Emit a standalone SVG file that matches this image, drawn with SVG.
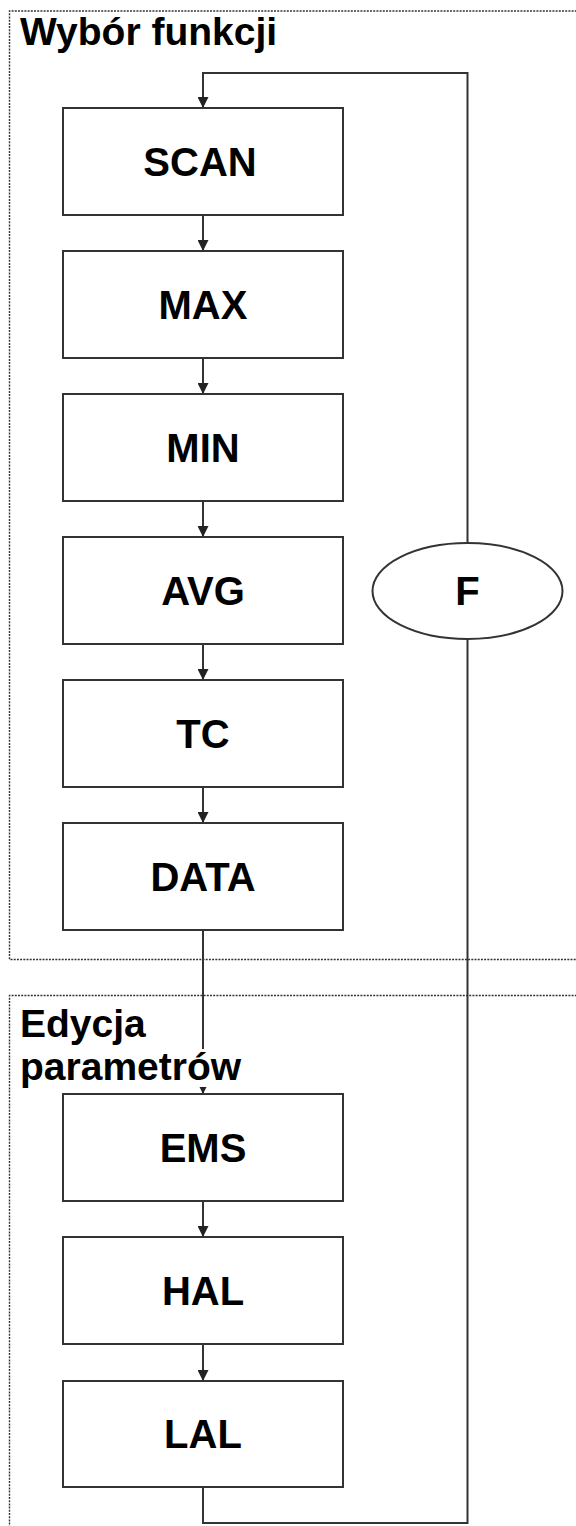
<svg xmlns="http://www.w3.org/2000/svg" width="576" height="1526" viewBox="0 0 576 1526">
<defs>
<style>
.frame{fill:none;stroke:#333;stroke-width:1.4;stroke-dasharray:2 1.2}
.box{fill:#fff;stroke:#333;stroke-width:2}
.line{fill:none;stroke:#333;stroke-width:2}
.lbl{font-family:"Liberation Sans",Arial,sans-serif;font-weight:bold;font-size:40px;fill:#000;text-anchor:middle}
.title{font-family:"Liberation Sans",Arial,sans-serif;font-weight:bold;font-size:39px;fill:#000}
</style>
<marker id="arr" viewBox="0 0 10 10" refX="10" refY="5" markerWidth="11" markerHeight="11" markerUnits="userSpaceOnUse" orient="auto">
<path d="M0,0 L10,5 L0,10 z" fill="#222"/>
</marker>
</defs>
<rect width="576" height="1526" fill="#fff"/>
<g id="frames">
<path class="frame" d="M580,11 H9.5 V959.5 H580"/>
<path class="frame" d="M580,995.5 H9.5 V1530"/>
</g>
<g id="connectors">
<path class="line" d="M203,215 V251" marker-end="url(#arr)"/>
<path class="line" d="M203,358 V394" marker-end="url(#arr)"/>
<path class="line" d="M203,501 V537" marker-end="url(#arr)"/>
<path class="line" d="M203,644 V680" marker-end="url(#arr)"/>
<path class="line" d="M203,787 V823" marker-end="url(#arr)"/>
<path class="line" d="M203,930 V1094" marker-end="url(#arr)"/>
<path class="line" d="M203,1201 V1237" marker-end="url(#arr)"/>
<path class="line" d="M203,1344 V1381" marker-end="url(#arr)"/>
<path class="line" d="M203,1487 V1523 H467.5 V639"/>
<path class="line" d="M467.5,543 V73 H203 V108" marker-end="url(#arr)"/>
</g>
<g id="label-wybor"><text class="title" x="20" y="45">Wybór funkcji</text></g>
<g id="label-edycja">
<rect x="18" y="1049" width="228" height="38" fill="#fff"/>
<text class="title" x="20" y="1037">Edycja</text>
<text class="title" x="20" y="1080">parametrów</text>
</g>
<g id="scan"><rect class="box" x="63" y="108" width="280" height="107"/><text class="lbl" x="200" y="176">SCAN</text></g>
<g id="max"><rect class="box" x="63" y="251" width="280" height="107"/><text class="lbl" x="203" y="319">MAX</text></g>
<g id="min"><rect class="box" x="63" y="394" width="280" height="107"/><text class="lbl" x="203" y="462">MIN</text></g>
<g id="avg"><rect class="box" x="63" y="537" width="280" height="107"/><text class="lbl" x="203" y="605">AVG</text></g>
<g id="tc"><rect class="box" x="63" y="680" width="280" height="107"/><text class="lbl" x="203" y="748">TC</text></g>
<g id="data"><rect class="box" x="63" y="823" width="280" height="107"/><text class="lbl" x="203" y="891">DATA</text></g>
<g id="ems"><rect class="box" x="63" y="1094" width="280" height="107"/><text class="lbl" x="203" y="1162">EMS</text></g>
<g id="hal"><rect class="box" x="63" y="1237" width="280" height="107"/><text class="lbl" x="203" y="1305">HAL</text></g>
<g id="lal"><rect class="box" x="63" y="1381" width="280" height="106"/><text class="lbl" x="203" y="1448">LAL</text></g>
<g id="f"><ellipse class="box" cx="467.5" cy="591" rx="95" ry="48"/><text class="lbl" x="467.5" y="605">F</text></g>
</svg>
